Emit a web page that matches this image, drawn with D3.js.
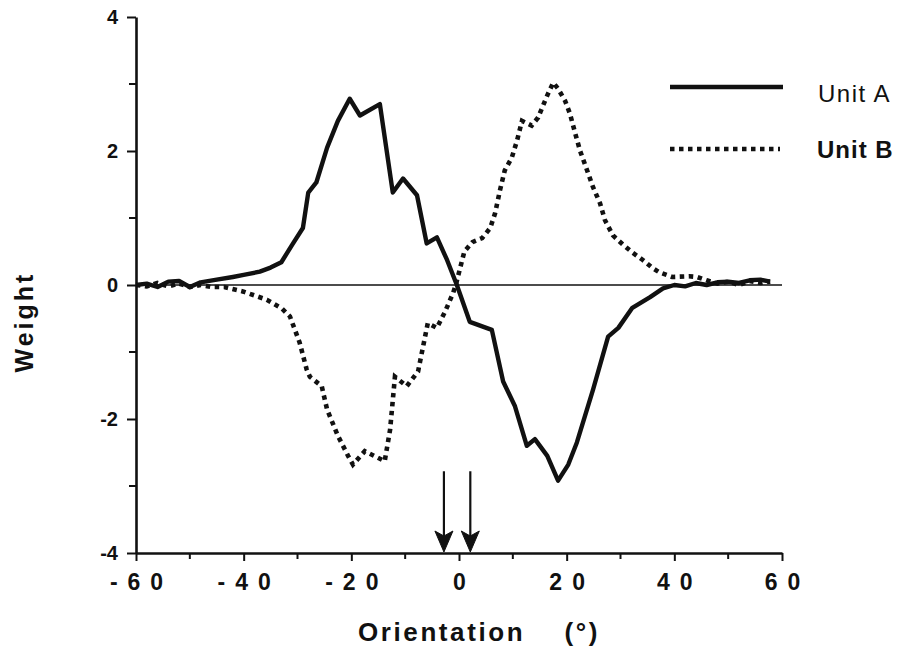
<!DOCTYPE html>
<html>
<head>
<meta charset="utf-8">
<script src="https://cdn.jsdelivr.net/npm/d3@7"></script>
<style>
  body { margin: 0; background: #fff; }
  text { font-family: "Liberation Sans", Arial, sans-serif; fill: #111; }
</style>
</head>
<body>
<div id="chart"></div>
<script>
// Unit A weights (solid line)
const unitAOrient = [-60, -58, -56, -54, -52, -50, -48, -45, -42, -40, -37, -35, -33, -31, -29, -28, -26.5, -24.5, -22.5,
  -20.3, -18.4, -14.7, -12.3, -10.4, -7.8, -6, -4.1, -2.2, -0.4, 2, 6.1, 8.2, 10.4, 12.6, 14.1, 16.4, 18.4, 20.3,
  21.9, 24.9, 27.7, 29.6, 32.2, 35.5, 37.9, 40, 42, 44, 46, 48, 50, 52, 54, 56, 57.8];
const unitAWeight = [0, 0.02, -0.03, 0.05, 0.06, -0.03, 0.04, 0.08, 0.12, 0.15, 0.2, 0.26, 0.34, 0.6, 0.85, 1.38, 1.53, 2.05, 2.45,
  2.78, 2.53, 2.7, 1.38, 1.59, 1.34, 0.62, 0.71, 0.37, 0, -0.55, -0.67, -1.44, -1.81, -2.4, -2.3, -2.55, -2.92, -2.68,
  -2.35, -1.56, -0.77, -0.64, -0.34, -0.18, -0.05, 0, -0.02, 0.03, 0, 0.04, 0.05, 0.03, 0.07, 0.08, 0.05];

// Unit B weights (dotted line)
const unitBOrient = [-60, -58, -56, -54, -52, -50, -48, -46, -43.6, -40, -35.7, -32.9, -31.4, -29.6, -28.3, -27.7, -25.5, -24.5,
  -22.5, -20.6, -19.7, -17.5, -13.8, -12.8, -11.9, -9.7, -7.6, -6.3, -5.8, -4.1, -2.6, -1.1, -0.6, 1, 2.5, 4.3, 5.8,
  6.7, 7.6, 8.5, 9.8, 10.8, 11.7, 13.5, 14.7, 16.4, 17.5, 18.4, 19.7, 20.6, 21.6, 22.5, 23.8, 24.9, 26.2, 27.1, 28.6,
  30.5, 32.3, 34.2, 36, 37.2, 39.6, 42.7, 44.2, 46, 48, 50, 52, 54, 56, 57.8];
const unitBWeight = [0, -0.02, 0.03, -0.02, 0.02, -0.03, 0, -0.03, -0.03, -0.1, -0.22, -0.35, -0.47, -0.86, -1.26, -1.37, -1.51, -1.86,
  -2.25, -2.55, -2.68, -2.48, -2.63, -2.16, -1.37, -1.51, -1.29, -0.77, -0.57, -0.64, -0.4, -0.12, 0, 0.5, 0.64, 0.7, 0.85,
  1.07, 1.41, 1.71, 1.9, 2.16, 2.45, 2.38, 2.5, 2.83, 3.02, 2.93, 2.75, 2.56, 2.26, 2.0, 1.71, 1.46, 1.22, 0.97, 0.74,
  0.6, 0.48, 0.37, 0.25, 0.19, 0.12, 0.13, 0.12, 0.07, 0.02, 0.05, 0, 0.06, 0.03, 0.05];

// ticks and marker arrows
const xTicks = [-60, -40, -20, 0, 20, 40, 60];
const xMinorTicks = [-50, -30, -10, 10, 30, 50];
const yTicks = [-4, -2, 0, 2, 4];
const yMinorTicks = [-3, -1, 1, 3];
const arrowOrient = [-2.8, 2.1];
const arrowTop = -2.78;

const W = 903, H = 649;
const svg = d3.select("#chart").append("svg")
  .attr("width", W).attr("height", H);

const x = d3.scaleLinear().domain([-60, 60]).range([136, 782]);
const y = d3.scaleLinear().domain([-4, 4]).range([553, 17]);

const fmt = d => (d < 0 ? "-" : "") + Math.abs(d);

// zero line
svg.append("line")
  .attr("x1", x(-60)).attr("x2", x(60))
  .attr("y1", y(0)).attr("y2", y(0))
  .attr("stroke", "#111").attr("stroke-width", 1.6);

// axes
const yAxis = svg.append("g").attr("transform", `translate(${x(-60)},0)`);
yAxis.call(d3.axisLeft(y).tickValues(yTicks).tickSize(9).tickSizeOuter(0).tickFormat(fmt));
yAxis.append("g").selectAll("line").data(yMinorTicks).enter().append("line")
  .attr("x1", -7).attr("x2", 0).attr("y1", d => y(d)).attr("y2", d => y(d))
  .attr("stroke", "#111").attr("stroke-width", 2);

const xAxis = svg.append("g").attr("transform", `translate(0,${y(-4)})`);
xAxis.call(d3.axisBottom(x).tickValues(xTicks).tickSize(8).tickSizeOuter(0).tickFormat(fmt));
xAxis.append("g").selectAll("line").data(xMinorTicks).enter().append("line")
  .attr("y1", 0).attr("y2", 6).attr("x1", d => x(d)).attr("x2", d => x(d))
  .attr("stroke", "#111").attr("stroke-width", 2);

svg.selectAll(".domain").attr("stroke", "#111").attr("stroke-width", 2.6);
svg.selectAll(".tick line").attr("stroke", "#111").attr("stroke-width", 2);

yAxis.selectAll(".tick text")
  .attr("x", -18).attr("font-size", 20).attr("font-weight", "bold")
  .attr("font-family", "Liberation Sans, Arial, sans-serif").attr("fill", "#111");
xAxis.selectAll(".tick text")
  .attr("y", 21).attr("dy", "0.71em").attr("dx", 5)
  .attr("font-size", 23).attr("font-weight", "bold")
  .attr("letter-spacing", 10)
  .attr("font-family", "Liberation Sans, Arial, sans-serif").attr("fill", "#111");

// curves
const line = d3.line().x(d => x(d[0])).y(d => y(d[1]));
const dataA = unitAOrient.map((v, i) => [v, unitAWeight[i]]);
const dataB = unitBOrient.map((v, i) => [v, unitBWeight[i]]);

svg.append("path").datum(dataB)
  .attr("d", line).attr("fill", "none")
  .attr("stroke", "#111").attr("stroke-width", 4.6)
  .attr("stroke-dasharray", "4.5,4.5");

svg.append("path").datum(dataA)
  .attr("d", line).attr("fill", "none")
  .attr("stroke", "#111").attr("stroke-width", 4.4)
  .attr("stroke-linejoin", "round");

// arrows
const arrows = svg.append("g");
arrows.selectAll("line").data(arrowOrient).enter().append("line")
  .attr("x1", d => x(d)).attr("x2", d => x(d))
  .attr("y1", y(arrowTop)).attr("y2", y(-4) - 14)
  .attr("stroke", "#111").attr("stroke-width", 2.2);
arrows.selectAll("path").data(arrowOrient).enter().append("path")
  .attr("d", d => `M${x(d) - 9},${y(-4) - 22} L${x(d)},${y(-4) - 17} L${x(d) + 9},${y(-4) - 22} L${x(d)},${y(-4) - 1} Z`)
  .attr("fill", "#111").attr("stroke", "#111").attr("stroke-width", 1);

// axis titles
svg.append("text")
  .attr("x", 479).attr("y", 641)
  .attr("text-anchor", "middle")
  .attr("font-size", 26).attr("font-weight", "bold")
  .attr("letter-spacing", 2.6)
  .style("white-space", "pre")
  .text("Orientation    (°)");

svg.append("text")
  .attr("transform", "translate(33,322) rotate(-90)")
  .attr("text-anchor", "middle")
  .attr("font-size", 25).attr("font-weight", "bold")
  .attr("letter-spacing", 3)
  .text("Weight");

// legend
const legend = svg.append("g");
legend.append("line")
  .attr("x1", 670).attr("x2", 783).attr("y1", 87).attr("y2", 87)
  .attr("stroke", "#111").attr("stroke-width", 4.4);
legend.append("line")
  .attr("x1", 670).attr("x2", 780).attr("y1", 149).attr("y2", 149)
  .attr("stroke", "#111").attr("stroke-width", 4.6)
  .attr("stroke-dasharray", "4.5,4.5");
legend.append("text")
  .attr("x", 818).attr("y", 102)
  .attr("font-size", 24).attr("letter-spacing", 1.5)
  .text("Unit A");
legend.append("text")
  .attr("x", 817).attr("y", 158)
  .attr("font-size", 24).attr("font-weight", "bold").attr("letter-spacing", 1)
  .text("Unit B");
</script>
</body>
</html>
